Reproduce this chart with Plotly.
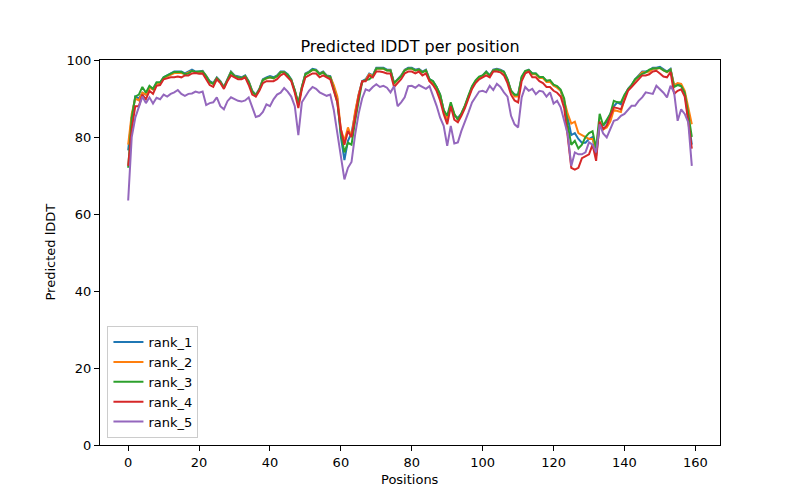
import plotly.graph_objects as go

positions = list(range(160))

rank_1 = [76.5, 85, 90.5, 90, 91.5, 91, 93, 92.5, 94, 94,
          95.5, 96, 96.5, 97, 97, 97, 96.5, 97, 97.5, 97,
          97, 97.2, 96, 94.5, 94, 95.5, 94.5, 93, 95, 97,
          96, 95.8, 95.5, 96, 94.5, 92, 91, 92.5, 95, 95.5,
          95.8, 95.5, 96, 97, 97, 96.3, 95, 92, 88.5, 93,
          96.5, 97, 97.7, 97.5, 96.5, 97, 96, 95.8, 93, 90,
          80, 74, 79, 81, 86, 91, 94.5, 95, 96.5, 96,
          98, 98, 98, 97.5, 97.5, 94, 95, 96, 97.5, 98,
          98, 97.5, 97.7, 97, 97.5, 95, 94.5, 93, 91, 87,
          84.5, 88.5, 85.5, 85, 86, 88, 90.5, 93, 94.5, 95.5,
          96, 97, 96, 97.5, 97.7, 97.5, 97, 95, 92, 91,
          91, 95.5, 97, 97.5, 96.5, 96.5, 95.5, 95.5, 94.5, 94.5,
          93.5, 93, 92, 89, 85, 80.5, 81, 79.5, 78.5, 78.5,
          79.5, 80, 75, 83, 83, 84, 86, 88, 89, 88.5,
          90.5, 92.5, 93.5, 95, 96, 97, 97, 97.3, 98, 98,
          98.2, 97.5, 97, 97.7, 93.3, 93.8, 93.5, 91.5, 85, 78]

rank_2 = [78, 86, 90, 89.5, 91.5, 91, 92.8, 92.3, 93.8, 93.8,
          95.3, 95.8, 96.2, 96.6, 96.6, 96.6, 96.3, 96.8, 97.2, 96.8,
          96.8, 97, 95.8, 94.2, 93.8, 95.3, 94.3, 92.8, 94.8, 96.8,
          95.8, 95.6, 95.3, 95.8, 94.3, 91.8, 90.8, 92.3, 94.8, 95.2,
          95.5, 95.2, 95.8, 96.8, 96.8, 96, 94.8, 92, 88.5, 92.8,
          96.3, 96.8, 97.4, 97.3, 96.3, 96.8, 95.8, 95.6, 93.5, 90.5,
          82, 79, 82.5, 80, 86.5, 91, 94.3, 94.8, 96.3, 95.8,
          97.7, 97.7, 97.7, 97.3, 97.3, 93.8, 94.8, 95.8, 97.3, 97.7,
          97.7, 97.3, 97.5, 96.8, 97.3, 94.5, 94, 92.8, 90.8, 86.8,
          84.8, 88.3, 86, 84.5, 86, 88, 90.5, 92.8, 94.3, 95.3,
          95.8, 96.8, 95.8, 97.3, 97.5, 97.3, 96.8, 94.8, 92, 90.5,
          90.5, 95.3, 96.8, 97.3, 96.3, 96.3, 95.3, 95.3, 94.3, 94.3,
          93.3, 92.8, 92, 89.5, 86, 83.5, 84, 81, 80.5, 80,
          79.5, 79.5, 77, 84, 82, 82.5, 84, 87, 86.8, 86.5,
          90, 92.3, 93.3, 94.8, 95.8, 96.8, 96.8, 97, 97.7, 97.7,
          97.9, 97.3, 96.8, 97.5, 93.5, 94, 93.8, 92, 88, 83.3]

rank_3 = [72, 85, 90.5, 91, 93, 91.5, 93.3, 92.5, 94.2, 94.2,
          95.5, 96, 96.5, 96.9, 96.9, 96.9, 96.3, 96.5, 97.2, 96.9,
          97, 97, 95.8, 94.3, 93.8, 95.3, 94.3, 92.8, 94.8, 96.8,
          95.8, 95.6, 95.3, 95.8, 94.3, 91.8, 90.8, 92.3, 94.8, 95.3,
          95.5, 95.3, 95.8, 96.8, 96.8, 96.2, 94.8, 92.2, 88.8, 93,
          96.3, 96.8, 97.5, 97.3, 96.3, 96.8, 95.8, 95.6, 92.5, 89,
          81, 76, 78.5, 78, 84, 89.5, 94.3, 94.8, 95, 95.8,
          97.8, 97.8, 97.8, 97.3, 97.3, 94, 94.8, 95.8, 97.3, 97.8,
          97.8, 97.3, 97.5, 96.8, 97.3, 95, 94.5, 93, 91, 87,
          85.5, 89, 86, 84.5, 86.2, 88.2, 90.8, 93.2, 94.7, 95.7,
          96, 96.9, 96, 97.3, 97.5, 97.3, 96.9, 95, 92, 91,
          91, 95.7, 97.2, 97.4, 96.5, 96.5, 95.6, 95.6, 94.6, 94.8,
          93.6, 93.2, 92.3, 90, 83, 78, 79, 77, 78, 80,
          81, 81.5, 77, 86, 83, 84.5, 86, 89.4, 89, 89,
          91, 92.4, 93.5, 95, 95.8, 96.4, 96.8, 97.5, 97.8, 97.8,
          98, 97.3, 96.9, 97.5, 93, 93.5, 93.2, 91.5, 86, 80]

rank_4 = [72.5, 82, 88, 88, 91, 89.8, 92, 91.2, 93.3, 93.5,
          95, 95.2, 95.5, 95.5, 95.7, 95.5, 96, 96, 96.5, 96.6,
          96.4, 96.5, 95, 93.5, 93, 95, 94, 92.5, 94.5, 96,
          95.5, 95, 95, 95.5, 93.5, 91, 90.5, 92, 94, 94.5,
          94.5, 94.5, 95, 96, 96.5, 95.5, 94.5, 91.5, 87.5, 92.5,
          95.5, 96, 96.5, 96.5, 95.5, 96, 95.5, 95, 92, 89,
          82, 78, 81.5, 80, 85, 90.5, 94.5, 94.5, 96, 95.5,
          97, 97, 96.8, 96.5, 96.5, 93, 94, 95, 96.5, 97,
          97, 96.5, 97, 96, 96.5, 94.5, 93.5, 92, 89.5, 86,
          83.3, 88, 84.5, 83.8, 85.5, 87.5, 90, 92.5, 94, 95,
          95.5, 96, 95.5, 97, 97, 96.8, 96, 94, 91, 89.5,
          89, 94.5, 96.5, 97, 95.5, 95.5, 94.5, 94, 93, 93,
          92, 91.5, 90.5, 87.5, 80, 72, 71.5, 72, 74.5, 75,
          75.5, 78, 73.8, 84, 82, 83, 85.5, 87.7, 87.5, 87.2,
          89.5, 92, 93, 94, 95, 96, 96, 96.3, 97, 97.2,
          96.5, 95.7, 95.5, 96.9, 91.2, 92, 92.4, 90.5, 84, 77]

rank_5 = [63.5, 80, 85, 88, 90.5, 88.8, 90.3, 88.7, 90.2, 89.8,
          91, 90.5, 91.2, 91.6, 92.2, 91.2, 90.7, 91.2, 91.3, 91.8,
          91.5, 91.8, 88.3, 88.8, 89, 90.3, 88, 87.2, 89.3, 90.3,
          89.8, 89.4, 89.2, 89.5, 90.3, 87.5, 85.2, 85.5, 86.5, 88.5,
          88, 89.8, 91, 91.5, 92.7, 91.8, 90.5, 88, 80.5, 89,
          90.7, 92, 93, 92.5, 91.6, 91.2, 90.7, 91, 87, 81,
          75, 69, 72, 73.5, 80.5, 86, 90, 92.4, 92, 93,
          93.7, 93, 93.3, 92.8, 91.6, 93.2, 88, 89, 90.3, 93.2,
          93.3, 92.8, 93.5, 93, 92.5, 93.2, 90.7, 88.1, 85, 82.9,
          77.7, 82.9, 78.3, 78.6, 81.6, 84.3, 86.4, 89, 90.5, 91.8,
          92, 91.6, 93.3, 92.2, 93.8, 93, 91.6, 90.5, 85.5, 83.3,
          82.5, 90.3, 93, 92, 92.5, 91.1, 92, 91.8, 90.5, 91.6,
          88.7, 89.4, 87.7, 84, 80.7, 72.5, 76, 75.5, 75.5, 76,
          78.6, 78, 76, 83.3, 80.9, 79.9, 82, 84.2, 84.5, 85.5,
          86, 87, 88.1, 88.1, 89.4, 90.3, 91.6, 91.4, 91.2, 93.3,
          92.5, 91.5, 90.3, 93.3, 91.6, 84.2, 87.2, 86, 83.8, 72.5]

series_names = ["rank_1", "rank_2", "rank_3", "rank_4", "rank_5"]
series_values = [rank_1, rank_2, rank_3, rank_4, rank_5]
colors = ["#1f77b4", "#ff7f0e", "#2ca02c", "#d62728", "#9467bd"]

x_ticks = [0, 20, 40, 60, 80, 100, 120, 140, 160]
y_ticks = [0, 20, 40, 60, 80, 100]

fig = go.Figure()
for name, vals, col in zip(series_names, series_values, colors):
    fig.add_trace(go.Scatter(x=positions, y=vals, mode="lines", name=name,
                             line=dict(color=col, width=2)))

font = "DejaVu Sans"
# page body has an 8px offset; margins compensate so the axes land at
# x 100..720 and y 60..445 in the 800x500 window
fig.update_layout(
    width=800, height=500,
    margin=dict(l=92, r=88, t=52, b=63),
    paper_bgcolor="white", plot_bgcolor="white",
    font=dict(family=font, size=13, color="black"),
    title=dict(text="Predicted lDDT per position", x=0.5, xref="paper",
               y=1 - 38 / 500, yref="container", yanchor="middle",
               font=dict(size=16, family=font, color="black")),
    xaxis=dict(range=[-7.95, 166.95], tickvals=x_ticks, ticks="outside",
               ticklen=5, tickwidth=1, tickcolor="black", showgrid=False,
               zeroline=False, showline=True, linecolor="black", linewidth=1,
               mirror=True, tickfont=dict(size=13)),
    yaxis=dict(range=[0, 100], tickvals=y_ticks, ticks="outside",
               ticklen=5, tickwidth=1, tickcolor="black", showgrid=False,
               zeroline=False, showline=True, linecolor="black", linewidth=1,
               mirror=True, tickfont=dict(size=13)),
    legend=dict(x=0.012, y=0.018, xanchor="left", yanchor="bottom",
                bgcolor="rgba(255,255,255,0.8)", bordercolor="#cccccc",
                borderwidth=1, font=dict(size=13), tracegroupgap=0),
    showlegend=True,
)
fig.add_annotation(text="Positions", xref="paper", yref="paper",
                   x=0.5, y=-35 / 385, yanchor="middle", showarrow=False,
                   font=dict(size=13))
fig.add_annotation(text="Predicted lDDT", xref="paper", yref="paper",
                   x=-50 / 620, y=0.5, textangle=-90,
                   xanchor="center", yanchor="middle", showarrow=False,
                   font=dict(size=13))

fig.write_html("out.html")
